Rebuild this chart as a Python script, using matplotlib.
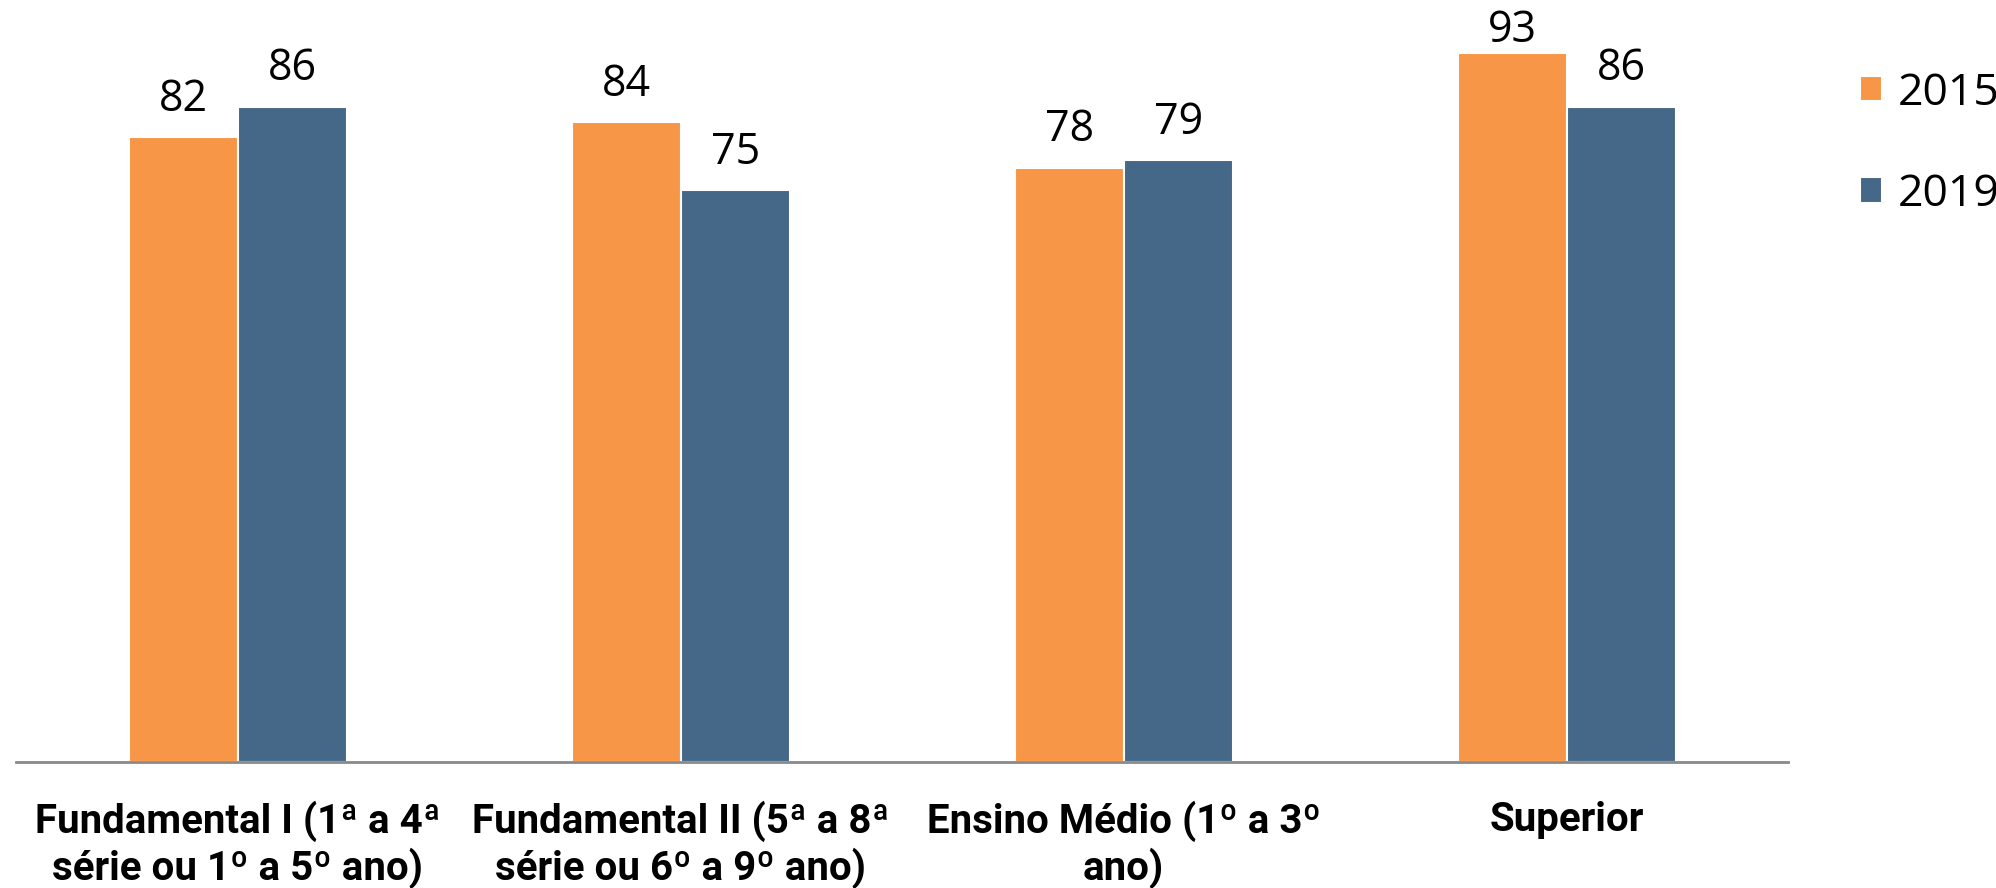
import numpy as np
import matplotlib.pyplot as plt

categories = ['Fundamental I (1ª a 4ª\nsérie ou 1º a 5º ano)',
              'Fundamental II (5ª a 8ª\nsérie ou 6º a 9º ano)',
              'Ensino Médio (1º a 3º\nano)',
              'Superior']
series_names = ['2015', '2019']
values_2015 = [82, 84, 78, 93]
values_2019 = [86, 75, 79, 86]

colors = ['#F79646', '#456788']


def main():
    fig = plt.figure(figsize=(19.96, 8.88), dpi=100)
    ax = fig.add_axes([0.008, 0.142, 0.888, 0.858])

    x = np.arange(len(categories))
    width = 0.246
    offsets = [-width / 2, width / 2]
    for vals, off, col, name in zip((values_2015, values_2019), offsets,
                                    colors, series_names):
        ax.bar(x + off, vals, width, color=col, edgecolor='white',
               linewidth=1.5, label=name)
        # value labels; tall bars get their label pulled down to stay in frame
        for xi, v in zip(x + off, vals):
            pad = 11 if v < 90 else 0
            ax.annotate(str(v), (xi, v), xytext=(0, pad),
                        textcoords='offset points', ha='center', va='bottom',
                        family='Open Sans', size=31)

    ax.set_xlim(-0.5, 3.5)
    ax.set_ylim(0, 100)
    ax.set_yticks([])
    ax.set_xticks(x)
    ax.set_xticklabels(categories, fontfamily='Roboto',
                       fontweight='bold', fontsize=29, linespacing=1.18)
    ax.tick_params(axis='x', length=0, pad=28)
    for s in ['top', 'right', 'left']:
        ax.spines[s].set_visible(False)
    ax.spines['bottom'].set_color('#898989')
    ax.spines['bottom'].set_linewidth(2)

    ax.legend(loc='upper left', bbox_to_anchor=(0.932, 0.92),
              bbox_transform=fig.transFigure, frameon=False,
              prop={'family': 'Open Sans', 'size': 32},
              handlelength=0.5, handleheight=0.5, handletextpad=0.35,
              labelspacing=1.28, borderaxespad=0, borderpad=0)

    fig.savefig('out.png', dpi=100)


if __name__ == '__main__':
    main()
